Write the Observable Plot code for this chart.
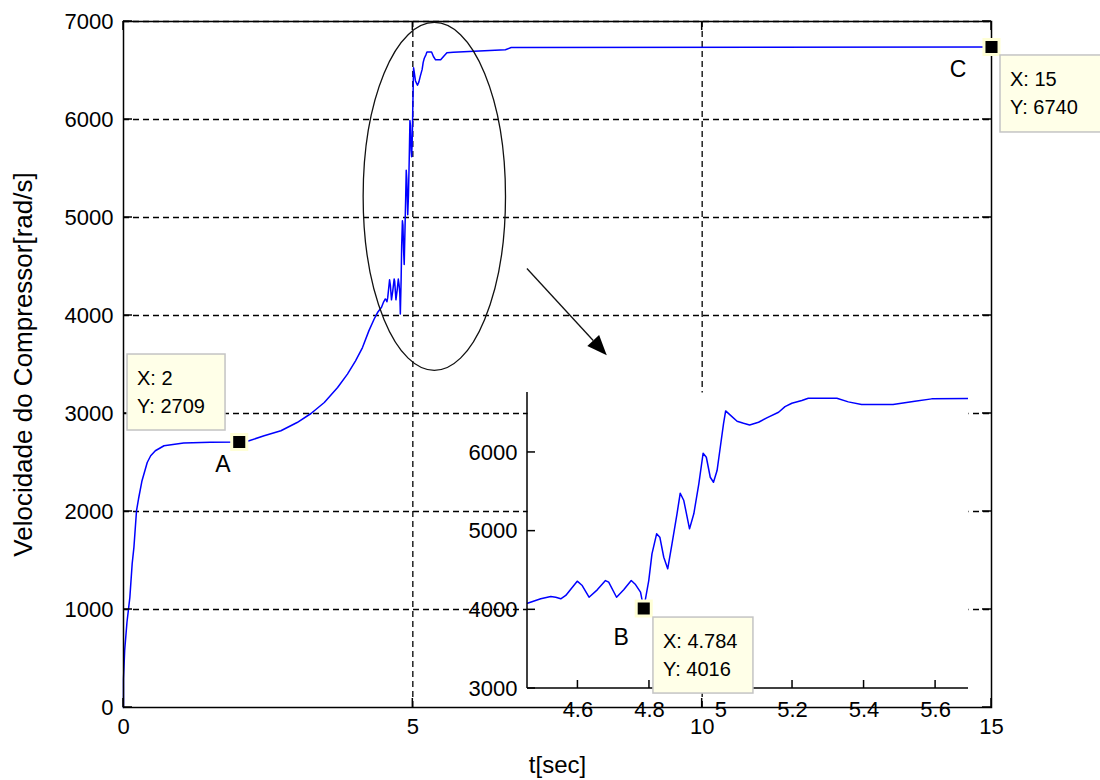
<!DOCTYPE html>
<html><head><meta charset="utf-8">
<script src="https://cdn.jsdelivr.net/npm/d3@7"></script>
<script src="https://cdn.jsdelivr.net/npm/@observablehq/plot@0.6"></script>
<style>
html,body{margin:0;padding:0;background:#fff;}
#wrap{position:relative;width:1100px;height:780px;overflow:hidden;font-family:"Liberation Sans",Arial,sans-serif;}
#wrap svg{position:absolute;left:0;top:0;}
</style></head><body><div id="wrap"></div>
<script>
// ---- data ----
const timeSec = [0,0.0,0.02,0.06,0.11,0.15,0.18,0.225,0.26,0.32,0.41,0.47,0.55,0.70,1.04,1.5,2.0,
  2.17,2.43,2.72,3.0,3.24,3.47,3.70,3.87,4.01,4.13,4.24,4.33,4.39,
  4.459,4.496,4.524,4.538,4.552,4.566,4.598,4.612,4.631,4.654,4.677,4.686,4.708,4.728,4.749,4.761,4.775,
  4.784,4.798,4.807,4.820,4.829,4.840,4.851,4.863,4.877,4.886,4.896,4.912,4.924,4.938,4.950,4.959,4.970,4.979,4.989,4.998,5.007,5.013,
  5.026,5.045,5.063,5.080,5.105,5.128,5.161,5.179,5.198,5.226,5.244,5.324,5.356,5.393,5.481,5.542,5.589,5.70,6.6,6.7,15];
const speed = [0,290,580,870,1124,1468,1634,2008,2130,2314,2500,2569,2620,2671,2700,2706,2709,
  2722,2773,2824,2908,3000,3112,3265,3402,3537,3673,3843,3962,4030,
  4084,4140,4169,4160,4140,4182,4364,4309,4160,4254,4372,4351,4160,4254,4372,4321,4224,
  4016,4372,4711,4966,4923,4668,4521,4839,5220,5482,5389,5029,5220,5601,5990,5939,5685,5621,5770,6066,6363,6528,
  6475,6396,6371,6350,6384,6440,6511,6583,6625,6660,6689,6689,6643,6609,6609,6651,6681,6685,6712,6735,6740];

const mainXTicks = [0, 5, 10, 15];
const mainXGrid = [5, 10];
const mainYTicks = [0, 1000, 2000, 3000, 4000, 5000, 6000, 7000];
const mainYGrid = [1000, 2000, 3000, 4000, 5000, 6000, 7000];
const insetXTicks = [4.6, 4.8, 5.0, 5.2, 5.4, 5.6];
const insetYTicks = [3000, 4000, 5000, 6000];
const insetXDomain = [4.459, 5.692];
const insetYDomain = [3000, 6762];

const tipLabels = ["A", "B", "C"];
const tipX = [2, 4.784, 15];
const tipY = [2709, 4016, 6740];
const tipXText = ["X: 2", "X: 4.784", "X: 15"];
const tipYText = ["Y: 2709", "Y: 4016", "Y: 6740"];

const ellipseCenter = [5.38, 5210];   // data units (t, speed)
const ellipseRadius = [1.23, 1775];
const arrowFrom = [6.98, 4475];
const arrowTo = [8.36, 3590];

const xLabel = "t[sec]";
const yLabel = "Velocidade do Compressor[rad/s]";

// ---- build ----
const series = timeSec.map((t, i) => ({t, v: speed[i]}));
const tips = tipLabels.map((k, i) => ({k, x: tipX[i], y: tipY[i], tx: tipXText[i], ty: tipYText[i]}));
const FONT = '"Liberation Sans", Arial, sans-serif';
const fmt = d => String(+(+d).toFixed(3));
const dash = "6,4";
const wrap = document.getElementById("wrap");

const main = Plot.plot({
  width: 1100, height: 780,
  marginLeft: 123, marginRight: 109, marginTop: 21, marginBottom: 73,
  x: {domain: [0, 15], label: null},
  y: {domain: [0, 7000], label: null},
  style: {fontFamily: FONT, fontSize: "22px", color: "#000", background: "transparent", overflow: "visible"},
  marks: [
    Plot.gridX(mainXGrid, {stroke: "#000", strokeOpacity: 1, strokeWidth: 1.3, strokeDasharray: dash}),
    Plot.gridY(mainYGrid, {stroke: "#000", strokeOpacity: 1, strokeWidth: 1.3, strokeDasharray: dash}),
    Plot.line(series, {x: "t", y: "v", stroke: "#0000ff", strokeWidth: 1.5}),
    Plot.frame({stroke: "#000", strokeWidth: 1.5}),
    Plot.axisX(mainXTicks, {tickSize: 0, tickPadding: 11, tickFormat: fmt, label: null, fontSize: 22}),
    Plot.axisY(mainYTicks, {tickSize: 0, tickPadding: 10, tickFormat: fmt, label: null, fontSize: 22}),
    Plot.text([xLabel], {text: d => d, frameAnchor: "bottom", textAnchor: "middle", lineAnchor: "middle", dy: 58, fontSize: 24}),
    Plot.text([yLabel], {text: d => d, frameAnchor: "left", textAnchor: "middle", lineAnchor: "middle", dx: -100, rotate: -90, fontSize: 26}),
    Plot.dot(tips.filter(d => d.k !== "B"), {x: "x", y: "y", symbol: "square", r: 8.5, fill: "#000", stroke: "#ffffd6", strokeWidth: 3})
  ]
});
wrap.appendChild(main);

const inset = Plot.plot({
  width: 540, height: 345,
  marginLeft: 87, marginRight: 12, marginTop: 12, marginBottom: 37,
  x: {domain: insetXDomain, label: null},
  y: {domain: insetYDomain, label: null},
  style: {fontFamily: FONT, fontSize: "22px", color: "#000", background: "transparent", overflow: "visible"},
  marks: [
    Plot.frame({fill: "#fff", stroke: "none"}),
    Plot.line(series, {x: "t", y: "v", stroke: "#0000ff", strokeWidth: 1.5, clip: true}),
    Plot.axisX(insetXTicks, {tickSize: 0, tickPadding: 13, tickFormat: fmt, label: null, fontSize: 22}),
    Plot.axisY(insetYTicks, {tickSize: 0, tickPadding: 10, tickFormat: fmt, label: null, fontSize: 22}),
    Plot.dot(tips.filter(d => d.k === "B"), {x: "x", y: "y", symbol: "square", r: 8.5, fill: "#000", stroke: "#ffffd6", strokeWidth: 3})
  ]
});
inset.style.left = "440px";
inset.style.top = "380px";
wrap.appendChild(inset);

function sc(plot, name) {
  const s = plot.scale(name);
  if (s && typeof s.apply === "function") return v => s.apply(v);
  return d3.scaleLinear(s.domain, s.range);
}

// ---- main decorations: inward ticks, ellipse, arrow, data tips ----
{
  const X = sc(main, "x"), Y = sc(main, "y");
  const g = d3.select(main).append("g").attr("stroke", "#000").attr("stroke-width", 1.5);
  const [x0, x1] = [X(0), X(15)], [y0, y1] = [Y(0), Y(7000)];
  mainXTicks.forEach(t => {
    g.append("line").attr("x1", X(t)).attr("x2", X(t)).attr("y1", y0).attr("y2", y0 - 9);
    g.append("line").attr("x1", X(t)).attr("x2", X(t)).attr("y1", y1).attr("y2", y1 + 9);
  });
  mainYTicks.forEach(v => {
    g.append("line").attr("y1", Y(v)).attr("y2", Y(v)).attr("x1", x0).attr("x2", x0 + 9);
    g.append("line").attr("y1", Y(v)).attr("y2", Y(v)).attr("x1", x1).attr("x2", x1 - 9);
  });
  const cx = X(ellipseCenter[0]), cy = Y(ellipseCenter[1]);
  d3.select(main).append("ellipse").attr("cx", cx).attr("cy", cy)
    .attr("rx", X(ellipseCenter[0] + ellipseRadius[0]) - cx)
    .attr("ry", cy - Y(ellipseCenter[1] + ellipseRadius[1]))
    .attr("fill", "none").attr("stroke", "#111").attr("stroke-width", 1.3);
  const ax0 = X(arrowFrom[0]), ay0 = Y(arrowFrom[1]), ax1 = X(arrowTo[0]), ay1 = Y(arrowTo[1]);
  const ang = Math.atan2(ay1 - ay0, ax1 - ax0), L = 20, W = 8;
  const bx = ax1 - L * Math.cos(ang), by = ay1 - L * Math.sin(ang);
  d3.select(main).append("line").attr("x1", ax0).attr("y1", ay0).attr("x2", bx).attr("y2", by)
    .attr("stroke", "#111").attr("stroke-width", 1.3);
  d3.select(main).append("path")
    .attr("d", `M${ax1},${ay1}L${bx + W * Math.sin(ang)},${by - W * Math.cos(ang)}L${bx - W * Math.sin(ang)},${by + W * Math.cos(ang)}Z`)
    .attr("fill", "#000");
}

function dataTip(plot, tip, box, lab) {
  const X = sc(plot, "x"), Y = sc(plot, "y");
  const px = X(tip.x), py = Y(tip.y);
  const g = d3.select(plot).append("g").attr("font-family", FONT).attr("text-anchor", "start");
  const bx = px + box.dx, by = py + box.dy;
  g.append("rect").attr("x", bx).attr("y", by).attr("width", box.w).attr("height", box.h)
    .attr("fill", "#ffffe8").attr("stroke", "#c4c4c4").attr("stroke-width", 1.5);
  g.append("text").attr("x", bx + 10).attr("y", by + 31).attr("font-size", 20).attr("text-anchor", "start").attr("fill", "#000").text(tip.tx);
  g.append("text").attr("x", bx + 10).attr("y", by + 59).attr("font-size", 20).attr("text-anchor", "start").attr("fill", "#000").text(tip.ty);
  g.append("text").attr("x", px + lab.dx).attr("y", py + lab.dy).attr("text-anchor", "middle")
    .attr("font-size", 23).attr("fill", "#000").text(tip.k);
}
dataTip(main, tips[0], {dx: -111.7, dy: -87.5, w: 98, h: 76}, {dx: -15.7, dy: 30.5});
dataTip(main, tips[2], {dx: 9, dy: 8.5, w: 115, h: 77}, {dx: -33, dy: 30.5});

// ---- inset spines and inward ticks ----
{
  const X = sc(inset, "x"), Y = sc(inset, "y");
  const g = d3.select(inset).append("g").attr("stroke", "#000").attr("stroke-width", 1.5);
  const xl = X(insetXDomain[0]), xr = X(insetXDomain[1]), yb = Y(insetYDomain[0]), yt = Y(insetYDomain[1]);
  g.append("line").attr("x1", xl).attr("x2", xl).attr("y1", yb).attr("y2", yt);
  g.append("line").attr("x1", xl).attr("x2", xr).attr("y1", yb).attr("y2", yb);
  insetXTicks.forEach(t => g.append("line").attr("x1", X(t)).attr("x2", X(t)).attr("y1", yb).attr("y2", yb - 8));
  insetYTicks.forEach(v => g.append("line").attr("y1", Y(v)).attr("y2", Y(v)).attr("x1", xl).attr("x2", xl + 8));
}
dataTip(inset, tips[1], {dx: 9.7, dy: 9, w: 100, h: 76}, {dx: -22, dy: 37});
</script></body></html>
